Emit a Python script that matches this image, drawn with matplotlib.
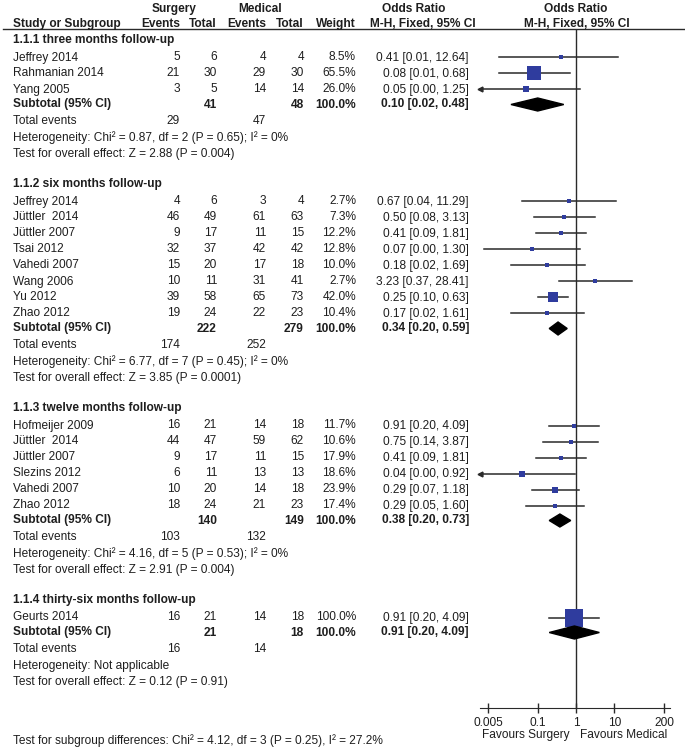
import matplotlib
matplotlib.use("Agg")
import matplotlib.pyplot as plt
from matplotlib.patches import Polygon

plt.rcParams['font.family'] = ['Liberation Sans', 'DejaVu Sans']

# ---- data ----
group_titles = ["1.1.1 three months follow-up", "1.1.2 six months follow-up",
                "1.1.3 twelve months follow-up", "1.1.4 thirty-six months follow-up"]

study = ["Jeffrey 2014", "Rahmanian 2014", "Yang 2005",
         "Jeffrey 2014", "Jüttler  2014", "Jüttler 2007", "Tsai 2012", "Vahedi 2007",
         "Wang 2006", "Yu 2012", "Zhao 2012",
         "Hofmeijer 2009", "Jüttler  2014", "Jüttler 2007", "Slezins 2012", "Vahedi 2007",
         "Zhao 2012",
         "Geurts 2014"]
group_of = [0, 0, 0, 1, 1, 1, 1, 1, 1, 1, 1, 2, 2, 2, 2, 2, 2, 3]
surg_events = [5, 21, 3, 4, 46, 9, 32, 15, 10, 39, 19, 16, 44, 9, 6, 10, 18, 16]
surg_total = [6, 30, 5, 6, 49, 17, 37, 20, 11, 58, 24, 21, 47, 17, 11, 20, 24, 21]
med_events = [4, 29, 14, 3, 61, 11, 42, 17, 31, 65, 22, 14, 59, 11, 13, 14, 21, 14]
med_total = [4, 30, 14, 4, 63, 15, 42, 18, 41, 73, 23, 18, 62, 15, 13, 18, 23, 18]
weight = [8.5, 65.5, 26.0, 2.7, 7.3, 12.2, 12.8, 10.0, 2.7, 42.0, 10.4,
          11.7, 10.6, 17.9, 18.6, 23.9, 17.4, 100.0]
or_est = [0.41, 0.08, 0.05, 0.67, 0.50, 0.41, 0.07, 0.18, 3.23, 0.25, 0.17,
          0.91, 0.75, 0.41, 0.04, 0.29, 0.29, 0.91]
# lower bounds shown as 0.00 are estimated from where the whisker ends
or_lo = [0.01, 0.01, 0.002, 0.04, 0.08, 0.09, 0.004, 0.02, 0.37, 0.10, 0.02,
         0.20, 0.14, 0.09, 0.002, 0.07, 0.05, 0.20]
or_hi = [12.64, 0.68, 1.25, 11.29, 3.13, 1.81, 1.30, 1.69, 28.41, 0.63, 1.61,
         4.09, 3.87, 1.81, 0.92, 1.18, 1.60, 4.09]

sub_surg_total = [41, 222, 140, 21]
sub_med_total = [48, 279, 149, 18]
sub_or = [0.10, 0.34, 0.38, 0.91]
sub_lo = [0.02, 0.20, 0.20, 0.20]
sub_hi = [0.48, 0.59, 0.73, 4.09]
sub_surg_events = [29, 174, 103, 16]
sub_med_events = [47, 252, 132, 14]
heterogeneity = ["Heterogeneity: Chi² = 0.87, df = 2 (P = 0.65); I² = 0%",
                 "Heterogeneity: Chi² = 6.77, df = 7 (P = 0.45); I² = 0%",
                 "Heterogeneity: Chi² = 4.16, df = 5 (P = 0.53); I² = 0%",
                 "Heterogeneity: Not applicable"]
overall = ["Test for overall effect: Z = 2.88 (P = 0.004)",
           "Test for overall effect: Z = 3.85 (P = 0.0001)",
           "Test for overall effect: Z = 2.91 (P = 0.004)",
           "Test for overall effect: Z = 0.12 (P = 0.91)"]
subgroup_diff = "Test for subgroup differences: Chi² = 4.12, df = 3 (P = 0.25), I² = 27.2%"

axis_ticks = [0.005, 0.1, 1, 10, 200]
axis_labels = ["0.005", "0.1", "1", "10", "200"]

# ---- styling ----
W, H = 685, 752
FS = 8.6
TXT = '#1e1e1e'
BLUE = '#2f3c9e'
LINE = '#2a2a2a'

fig = plt.figure(figsize=(W / 100, H / 100), dpi=100)
ax = fig.add_axes([0, 0, 1, 1])
ax.set_xlim(0, W)
ax.set_ylim(H, 0)
ax.axis('off')

# forest panel: bottom spine is the axis line, y uses the same pixel rows
AX_TOP, AX_BOT = 29, 708
axf = fig.add_axes([480 / W, (H - AX_BOT) / H, 190 / W, (AX_BOT - AX_TOP) / H])
axf.set_xscale('log')
xmin, xmax = 0.0031, 287
axf.set_xlim(xmin, xmax)
axf.set_ylim(AX_BOT, AX_TOP)
axf.patch.set_alpha(0)
for s in ['top', 'left', 'right']:
    axf.spines[s].set_visible(False)
axf.spines['bottom'].set_color(LINE)
axf.set_yticks([])
axf.set_xticks(axis_ticks)
axf.set_xticklabels(axis_labels)
axf.minorticks_off()
axf.tick_params(axis='x', direction='inout', length=7, width=1, color=LINE,
                labelsize=FS, labelcolor=TXT, pad=3)
axf.get_xticklabels()[0].set_x(0.0058)
axf.axvline(1, color=LINE, lw=1, zorder=1)

X_NAME, X_SE, X_ST, X_ME, X_MT, X_W, X_OR = 13, 180, 217, 266, 304, 356, 469


def txt(x, y, s, ha='left', bold=False, **kw):
    ax.text(x, y, s, ha=ha, va='center', fontsize=FS, color=TXT,
            fontweight='bold' if bold else 'normal', **kw)


# header
txt(174, 9, "Surgery", ha='center', bold=True)
txt(260, 9, "Medical", ha='center', bold=True)
txt(414, 9, "Odds Ratio", ha='center', bold=True)
txt(576, 9, "Odds Ratio", ha='center', bold=True)
txt(X_NAME, 24, "Study or Subgroup", bold=True)
txt(X_SE, 24, "Events", ha='right', bold=True)
txt(X_ST, 24, "Total", ha='right', bold=True)
txt(X_ME, 24, "Events", ha='right', bold=True)
txt(X_MT, 24, "Total", ha='right', bold=True)
txt(X_W, 24, "Weight", ha='right', bold=True)
txt(423, 24, "M-H, Fixed, 95% CI", ha='center', bold=True)
txt(577, 24, "M-H, Fixed, 95% CI", ha='center', bold=True)
ax.plot([3, 684], [AX_TOP, AX_TOP], color=LINE, lw=1)


def ci_text(e, lo, hi):
    return f"{e:.2f} [{lo:.2f}, {hi:.2f}]"


y = 40
for g in range(len(group_titles)):
    txt(X_NAME, y, group_titles[g], bold=True)
    y += 17.5
    rows = [i for i in range(len(study)) if group_of[i] == g]
    for k, i in enumerate(rows):
        if k > 0:
            y += 16
        txt(X_NAME, y, study[i])
        txt(X_SE, y, str(surg_events[i]), ha='right')
        txt(X_ST, y, str(surg_total[i]), ha='right')
        txt(X_ME, y, str(med_events[i]), ha='right')
        txt(X_MT, y, str(med_total[i]), ha='right')
        txt(X_W, y, f"{weight[i]:.1f}%", ha='right')
        txt(X_OR, y, ci_text(or_est[i], or_lo[i], or_hi[i]), ha='right')
        lo = max(or_lo[i], xmin)
        hi = min(or_hi[i], xmax)
        axf.plot([lo, hi], [y, y], color=LINE, lw=1.1, zorder=2, clip_on=False)
        if or_lo[i] < xmin:
            axf.plot([xmin], [y], marker='<', ms=3.5, color=LINE, zorder=2, clip_on=False)
        size_px = max(3.5, 18 * (weight[i] / 100) ** 0.75)
        axf.plot([or_est[i]], [y], marker='s', ms=size_px * 0.72, color=BLUE,
                 mec=BLUE, mew=0, zorder=3, clip_on=False)
    y += 15
    txt(X_NAME, y, "Subtotal (95% CI)", bold=True)
    txt(X_ST, y, str(sub_surg_total[g]), ha='right', bold=True)
    txt(X_MT, y, str(sub_med_total[g]), ha='right', bold=True)
    txt(X_W, y, "100.0%", ha='right', bold=True)
    txt(X_OR, y, ci_text(sub_or[g], sub_lo[g], sub_hi[g]), ha='right', bold=True)
    axf.add_patch(Polygon([(sub_lo[g], y), (sub_or[g], y - 6.5), (sub_hi[g], y),
                           (sub_or[g], y + 6.5)], closed=True, color='black', zorder=4))
    y += 17
    txt(X_NAME, y, "Total events")
    txt(X_SE, y, str(sub_surg_events[g]), ha='right')
    txt(X_ME, y, str(sub_med_events[g]), ha='right')
    y += 16.5
    txt(X_NAME, y, heterogeneity[g])
    y += 16
    txt(X_NAME, y, overall[g])
    y += 30

txt(570, 735, "Favours Surgery", ha='right')
txt(580, 735, "Favours Medical", ha='left')
txt(X_NAME, 741, subgroup_diff)

fig.savefig("out.png", dpi=100)
